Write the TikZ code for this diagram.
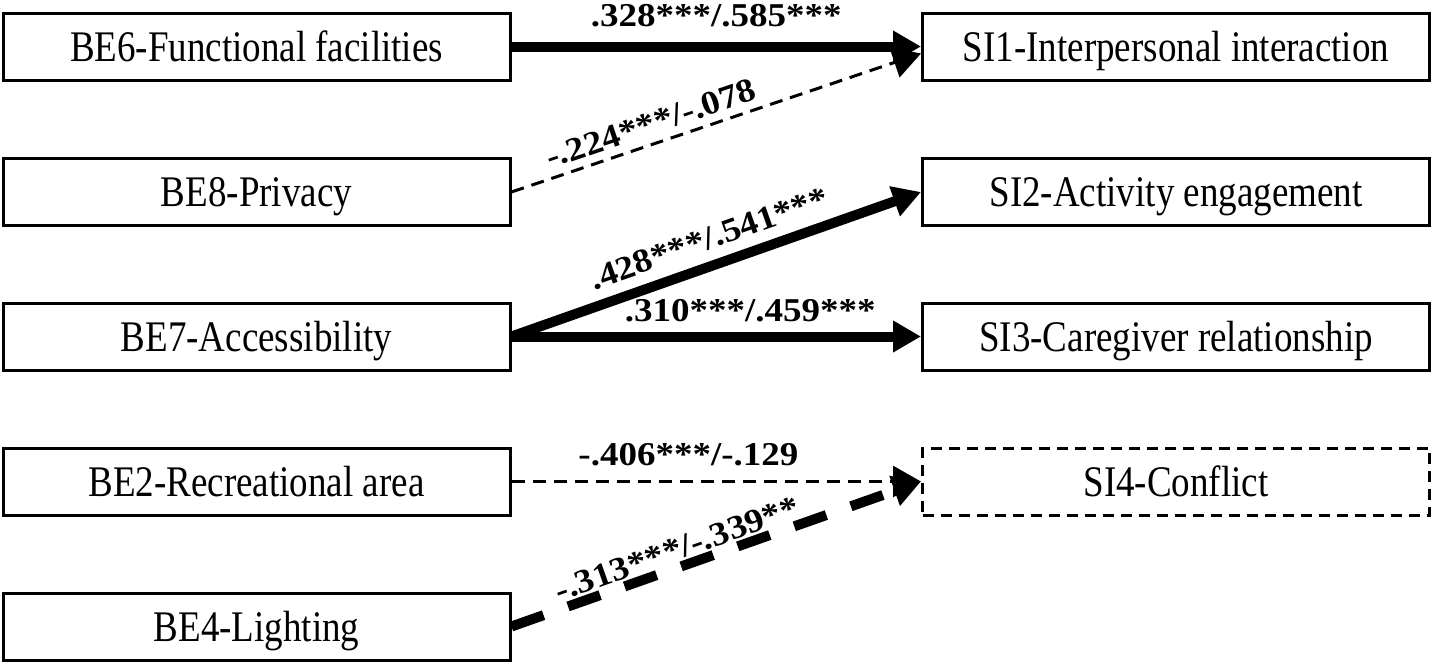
\documentclass[tikz,border=0pt]{standalone}
\usepackage{fontspec}
\setmainfont{Liberation Serif}
\usepackage{graphicx}
\usetikzlibrary{arrows.meta,calc}
\newcommand\vst[1]{\scalebox{1}[1.18]{#1}}
\newcommand\vsq[1]{\scalebox{1}[0.9]{#1}}
\begin{document}
\begin{tikzpicture}[x=1pt,y=-1pt,
  box/.style={draw, line width=3pt, minimum width=507pt, minimum height=67pt,
    inner sep=0pt, text height=33pt, text depth=4pt, font=\fontsize{37}{40}\selectfont},
  dbox/.style={box, dash pattern=on 11pt off 7pt},
  thickarr/.style={line width=10pt, -{Triangle[length=28pt,width=30pt]}},
  thinarr/.style={line width=3pt, dash pattern=on 13pt off 8pt, -{Triangle[length=28pt,width=31pt]}},
  thickdash/.style={line width=10pt, dash pattern=on 34pt off 26pt, -{Triangle[length=28pt,width=30pt]}},
  lab/.style={font=\bfseries\fontsize{37}{40}\selectfont, inner sep=0pt, text height=23pt, text depth=0pt}]
\useasboundingbox (0,0) rectangle (1433,662);
\fill[white] (0,0) rectangle (1433,662);
% left column
\node[box] (BE6) at (256.5,46.5) {\vst{BE6-Functional facilities}};
\node[box] (BE8) at (256.5,192) {\vst{BE8-Privacy}};
\node[box] (BE7) at (256.5,336.5) {\vst{BE7-Accessibility}};
\node[box] (BE2) at (256.5,481.5) {\vst{BE2-Recreational area}};
\node[box] (BE4) at (256.5,626.5) {\vst{BE4-Lighting}};
% right column
\node[box] (SI1) at (1176,46.5) {\vst{SI1-Interpersonal interaction}};
\node[box] (SI2) at (1176,192) {\vst{SI2-Activity engagement}};
\node[box] (SI3) at (1176,336.5) {\vst{SI3-Caregiver relationship}};
\node[dbox] (SI4) at (1176,481.5) {\vst{SI4-Conflict}};
% connectors
\draw[thickarr] (BE6.east) -- node[lab, pos=0.5, above=15pt] (l1) {\vsq{.328***/.585***}} (SI1.west);
\draw[thinarr] (BE8.east) -- node[lab, pos=0.356, sloped, above=8pt] (l2) {\vsq{-.224***/-.078}} ($(SI1.west)+(0,7)$);
\draw[thickarr] (BE7.east) -- node[lab, pos=0.504, sloped, above=11pt] (l3) {\vsq{.428***/.541***}} (SI2.west);
\draw[thickarr] (BE7.east) -- node[lab, pos=0.583, above=10pt] (l4) {\vsq{.310***/.459***}} (SI3.west);
\draw[thinarr] (BE2.east) -- node[lab, pos=0.432, above=15pt] (l5) {\vsq{-.406***/-.129}} (SI4.west);
\draw[thickdash] (BE4.east) -- node[lab, pos=0.419, sloped, above=2pt] (l6) {\vsq{-.313***/-.339**}} (SI4.west);
\end{tikzpicture}
\end{document}
